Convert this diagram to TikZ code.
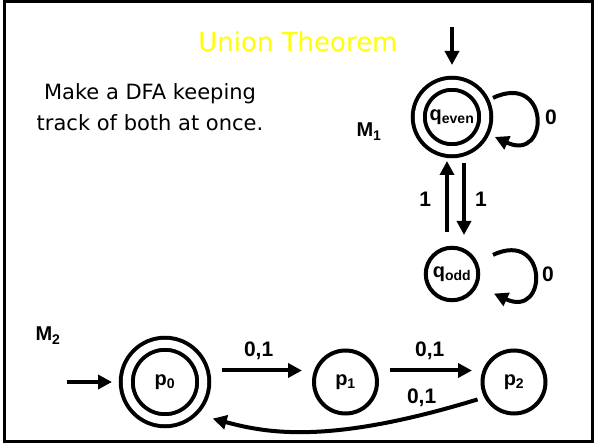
\documentclass[tikz,border=0pt]{standalone}
\usepackage{fontspec}
\setmainfont{Liberation Sans}
\newfontfamily\comicfont{DejaVu Sans}
\definecolor{titleyellow}{RGB}{255,255,0}
\usetikzlibrary{arrows.meta,positioning}

\begin{document}
\begin{tikzpicture}[x=1pt, y=1pt,
    dfastate/.style={circle, draw, line width=4pt, inner sep=0pt, outer sep=0pt,
      minimum size=63pt, font=\fontsize{20}{24}\selectfont\bfseries},
    acceptstate/.style={dfastate, double, double distance=8pt},
    trans/.style={-{Triangle[length=14pt, width=14pt]}, line width=4pt},
    translabel/.style={inner sep=0pt, font=\fontsize{21}{25}\selectfont\bfseries},
    machinename/.style={inner sep=0pt, anchor=base, font=\fontsize{20}{24}\selectfont\bfseries},
    slidetext/.style={font=\comicfont\fontsize{21}{31}\selectfont, align=center}
  ]
    \useasboundingbox (0,0) rectangle (595,445);
    \draw[line width=3pt] (4.7,3.5) rectangle (592.5,443.5);

    \node[font=\comicfont\fontsize{26}{30}\selectfont, text=titleyellow, anchor=base] (title) at (298,393) {Union Theorem};
    \node[slidetext] (descr) at (150,338) {Make a DFA keeping\\track of both at once.};

    % M1
    \node[machinename] (mone) at (369,308) {M\textsubscript{1}};
    \node[acceptstate, minimum size=66.5pt] (qeven) at (452,328) {q\textsubscript{even}};
    \node[dfastate, minimum size=52.5pt]    (qodd)  at (452,171) {q\textsubscript{odd}};
    \coordinate (qin) at (452,418);
    \draw[trans, shorten >=18.75pt] (qin) -- (qeven);
    \draw[trans, shorten <=12pt, shorten >=14pt] (qeven.25) .. controls +(25:75pt) and +(-25:75pt) .. (qeven.-25)
      node[translabel, pos=0.5, right=10pt] (lqe) {0};
    \draw[trans, shorten <=19pt, shorten >=20pt] (qodd.25) .. controls +(25:80pt) and +(-25:80pt) .. (qodd.-25)
      node[translabel, pos=0.5, right=10pt] (lqo) {0};
    \draw[trans, shorten <=15.75pt, shorten >=10.75pt] ([xshift=-5pt]qodd.north) -- ([xshift=-5pt]qeven.south)
      node[translabel, midway, left=14pt] (lup) {1};
    \draw[trans, shorten <=12.75pt, shorten >=12.75pt] ([xshift=12pt]qeven.south) -- ([xshift=12pt]qodd.north)
      node[translabel, midway, right=9pt] (ldown) {1};

    % M2
    \node[machinename] (mtwo) at (48,104) {M\textsubscript{2}};
    \node[acceptstate, minimum size=76.5pt] (p0) at (165,63)   {p\textsubscript{0}};
    \node[dfastate]                          (p1) at (345.5,63) {p\textsubscript{1}};
    \node[dfastate]                          (p2) at (514,63)   {p\textsubscript{2}};
    \coordinate (pin) at (67,63);
    \draw[trans, shorten >=14.75pt] (pin) -- (p0);
    \draw[trans, shorten <=18.75pt, shorten >=12pt] ([yshift=11.5pt]p0.east) -- ([yshift=11.5pt]p1.west)
      node[translabel, midway, above=9pt] (l01) {0,1};
    \draw[trans, shorten <=13pt, shorten >=10.5pt] ([yshift=11.5pt]p1.east) -- ([yshift=11.5pt]p2.west)
      node[translabel, midway, above=9pt] (l12) {0,1};
    \draw[trans, shorten <=9pt, shorten >=25pt] (p2.208) .. controls +(197:164pt) and +(-15:82pt) .. (p0.-52)
      node[translabel, pos=0.15, above=6pt] (l20) {0,1};
  \end{tikzpicture}
\end{document}
